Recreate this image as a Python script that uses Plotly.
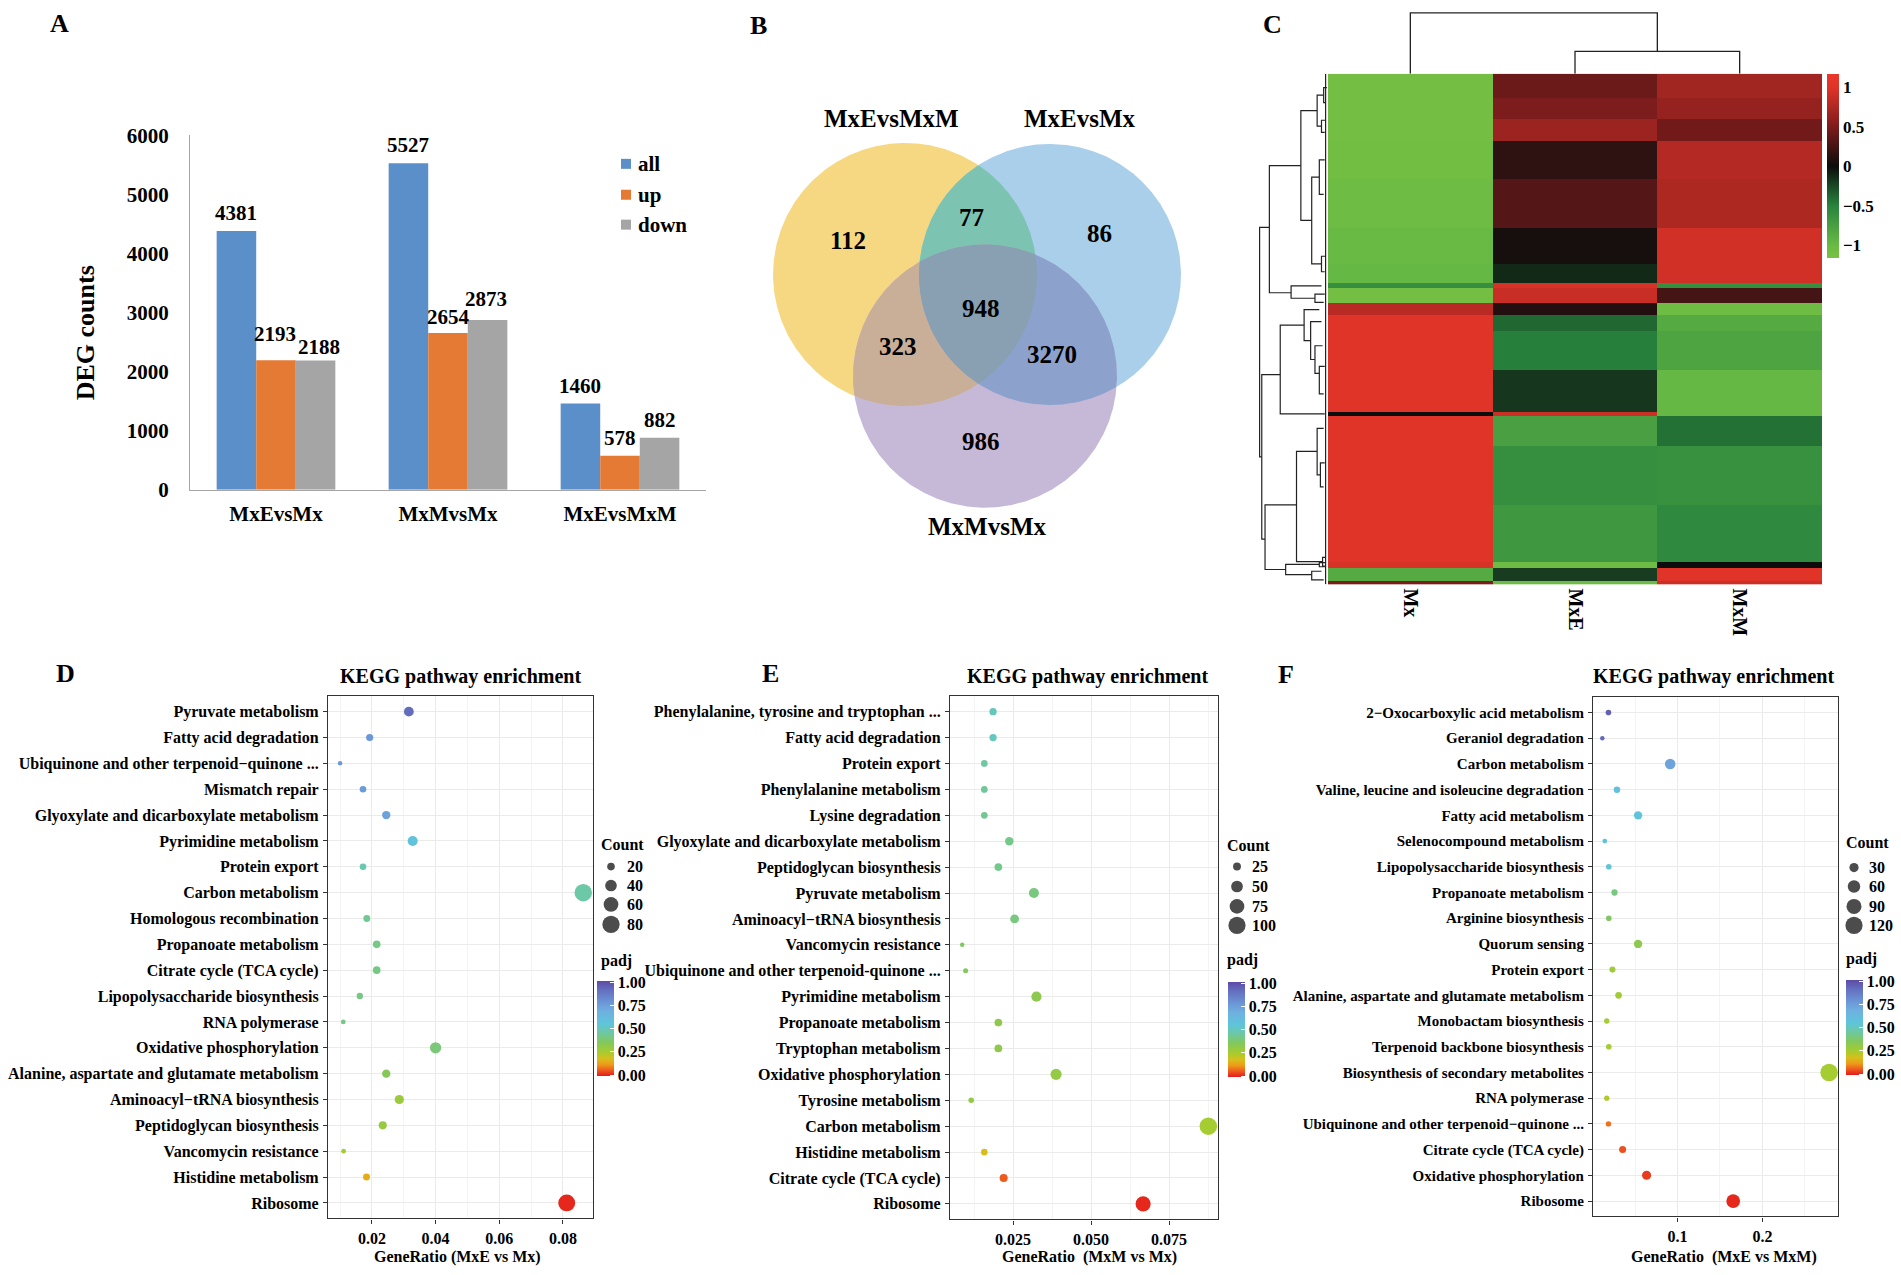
import numpy as np
import plotly.graph_objects as go

W, H = 1901, 1275
SERIF = "Liberation Serif, 'Times New Roman', Times, serif"

# ===================== DATA =====================
# Panel A: DEG counts
deg_groups = ["MxEvsMx", "MxMvsMx", "MxEvsMxM"]
deg_all = [4381, 5527, 1460]
deg_up = [2193, 2654, 578]
deg_down = [2188, 2873, 882]
deg_series = ["all", "up", "down"]

# Panel B: Venn
venn_set_names = ["MxEvsMxM", "MxEvsMx", "MxMvsMx"]
venn_region_sets = ["A", "AB", "B", "ABC", "AC", "BC", "C"]
venn_region_counts = [112, 77, 86, 948, 323, 3270, 986]

# Panel C: heatmap (row blocks, top to bottom)
hm_samples = ["Mx", "MxE", "MxM"]
hm_block_rows = [72, 60, 65, 110, 140, 105, 55, 15, 43, 35, 47, 115, 120, 12, 88, 170, 165, 20, 37, 10]
hm_mx = [-1.1, -1.1, -1.1, -1.08, -1.05, -1.0, -0.98, -0.6, -1.1, 0.8, 1.0, 1.0, 1.02, 0.0, 1.0, 1.0, 1.0, 0.95, -0.85, 0.5]
hm_mxe = [0.42, 0.5, 0.65, 0.15, 0.32, 0.05, -0.12, 0.95, 0.88, 0.1, -0.38, -0.48, -0.18, 0.9, -0.75, -0.6, -0.68, -1.05, -0.2, -1.05]
hm_mxm = [0.68, 0.62, 0.45, 0.78, 0.75, 0.92, 0.92, -0.6, 0.25, -1.05, -0.85, -0.8, -0.98, -0.98, -0.42, -0.62, -0.55, 0.0, 1.0, 0.9]
# column dendrogram: (merge height, x1, h1, x2, h2)
col_links = [(23.5, 1, 0, 2, 0), (64, 0, 0, 1.5, 23.5)]
# row dendrogram: (merge height, row1, h1, row2, h2)
row_links = [
    (63, 446, 54, 1113, 61), (61, 874, 44, 1352, 58),
    (54, 267, 25, 636, 34), (25, 107, 10, 426, 15),
    (10, 62, 4, 152, 6), (4, 40, 1, 84, 2), (6, 135, 2, 170, 3),
    (15, 300, 8, 552, 6), (8, 250, 3, 350, 4), (6, 530, 2, 575, 3),
    (34, 616, 6, 652, 12), (12, 640, 3, 664, 4),
    (44, 730, 22, 988, 3), (22, 685, 8, 775, 16), (16, 720, 6, 830, 12),
    (12, 790, 5, 870, 8), (8, 850, 3, 930, 4),
    (58, 1252, 29, 1440, 39), (29, 1097, 10, 1417, 5),
    (10, 1030, 4, 1165, 7), (7, 1130, 3, 1200, 4), (5, 1405, 2, 1430, 2),
    (39, 1425, 8, 1455, 15), (15, 1445, 6, 1470, 4), (8, 1420, 2, 1432, 3),
]

# Panel D: KEGG MxE vs Mx
d_terms = ["Pyruvate metabolism", "Fatty acid degradation", "Ubiquinone and other terpenoid\u2212quinone ...",
           "Mismatch repair", "Glyoxylate and dicarboxylate metabolism", "Pyrimidine metabolism",
           "Protein export", "Carbon metabolism", "Homologous recombination", "Propanoate metabolism",
           "Citrate cycle (TCA cycle)", "Lipopolysaccharide biosynthesis", "RNA polymerase",
           "Oxidative phosphorylation", "Alanine, aspartate and glutamate metabolism",
           "Aminoacyl\u2212tRNA biosynthesis", "Peptidoglycan biosynthesis", "Vancomycin resistance",
           "Histidine metabolism", "Ribosome"]
d_ratio = [0.0316, 0.0193, 0.0100, 0.0172, 0.0245, 0.0328, 0.0172, 0.0864, 0.0184, 0.0215,
           0.0215, 0.0162, 0.0110, 0.0400, 0.0245, 0.0286, 0.0234, 0.0111, 0.0183, 0.0812]
d_count = [30, 18, 9, 16, 23, 31, 16, 82, 17, 20, 20, 15, 10, 38, 23, 27, 22, 10, 17, 77]
d_padj = [0.92, 0.78, 0.77, 0.76, 0.74, 0.57, 0.48, 0.46, 0.43, 0.41, 0.41, 0.41, 0.41, 0.39,
          0.34, 0.28, 0.29, 0.25, 0.14, 0.0]

# Panel E: KEGG MxM vs Mx
e_terms = ["Phenylalanine, tyrosine and tryptophan ...", "Fatty acid degradation", "Protein export",
           "Phenylalanine metabolism", "Lysine degradation", "Glyoxylate and dicarboxylate metabolism",
           "Peptidoglycan biosynthesis", "Pyruvate metabolism", "Aminoacyl\u2212tRNA biosynthesis",
           "Vancomycin resistance", "Ubiquinone and other terpenoid-quinone ...", "Pyrimidine metabolism",
           "Propanoate metabolism", "Tryptophan metabolism", "Oxidative phosphorylation",
           "Tyrosine metabolism", "Carbon metabolism", "Histidine metabolism",
           "Citrate cycle (TCA cycle)", "Ribosome"]
e_ratio = [0.0186, 0.0186, 0.0158, 0.0158, 0.0158, 0.0238, 0.0203, 0.0317, 0.0255, 0.0087,
           0.0098, 0.0325, 0.0203, 0.0203, 0.0388, 0.0116, 0.0876, 0.0158, 0.0220, 0.0667]
e_count = [22, 22, 19, 19, 19, 28, 24, 38, 30, 10, 12, 39, 24, 24, 46, 14, 104, 19, 26, 79]
e_padj = [0.50, 0.50, 0.45, 0.44, 0.43, 0.42, 0.42, 0.40, 0.40, 0.36, 0.35, 0.32, 0.31, 0.31,
          0.30, 0.30, 0.25, 0.17, 0.05, 0.0]

# Panel F: KEGG MxE vs MxM
f_terms = ["2\u2212Oxocarboxylic acid metabolism", "Geraniol degradation", "Carbon metabolism",
           "Valine, leucine and isoleucine degradation", "Fatty acid metabolism",
           "Selenocompound metabolism", "Lipopolysaccharide biosynthesis", "Propanoate metabolism",
           "Arginine biosynthesis", "Quorum sensing", "Protein export",
           "Alanine, aspartate and glutamate metabolism", "Monobactam biosynthesis",
           "Terpenoid backbone biosynthesis", "Biosynthesis of secondary metabolites", "RNA polymerase",
           "Ubiquinone and other terpenoid\u2212quinone ...", "Citrate cycle (TCA cycle)",
           "Oxidative phosphorylation", "Ribosome"]
f_ratio = [0.0187, 0.0115, 0.0914, 0.0287, 0.0536, 0.0144, 0.0191, 0.0258, 0.0191, 0.0536,
           0.0234, 0.0306, 0.0167, 0.0191, 0.2785, 0.0167, 0.0187, 0.0354, 0.0636, 0.1656]
f_count = [9, 5, 41, 13, 24, 6, 9, 12, 9, 24, 11, 14, 8, 9, 125, 8, 8, 16, 29, 74]
f_padj = [0.95, 0.93, 0.73, 0.57, 0.56, 0.56, 0.54, 0.40, 0.36, 0.32, 0.27, 0.26, 0.25, 0.25,
          0.25, 0.23, 0.07, 0.04, 0.02, 0.0]

d_legend_counts = [20, 40, 60, 80]
e_legend_counts = [25, 50, 75, 100]
f_legend_counts = [30, 60, 90, 120]
padj_ticks = [0, 0.25, 0.5, 0.75, 1.0]
hm_ticks = [-1, -0.5, 0, 0.5, 1]

# ===================== HELPERS =====================
YS, YO = 1.0159, -10.84          # vertical layout calibration
def ty(y): return YS * y + YO
def clamp(v): return min(1.0, max(0.0, v))
def px_x(x): return x / W
def px_y(y): return 1 - ty(y) / H
def dom_x(a, b): return [a / W, b / W]
def dom_y(top, bottom): return [clamp(1 - ty(bottom) / H), clamp(1 - ty(top) / H)]

def bold(size, color="black"):
    return dict(family=SERIF, size=size, color=color, weight="bold")

annotations = []
def ann(text, x, y, size, xanchor="center", yanchor="middle", angle=0):
    annotations.append(dict(text=text, x=px_x(x), y=px_y(y), xref="paper", yref="paper",
                            showarrow=False, xanchor=xanchor, yanchor=yanchor, textangle=angle,
                            font=bold(size), borderpad=0))

fig = go.Figure()
layout = dict(width=W, height=H, margin=dict(l=0, r=0, t=0, b=0, pad=0),
              paper_bgcolor="white", plot_bgcolor="rgba(0,0,0,0)", showlegend=False,
              font=bold(16))

# ===================== PANEL A =====================
bar_colors = ["#5B8FC9", "#E47A33", "#A5A5A5"]
BARGAP = 0.31
a_x0, a_x1 = 190, 706
bar_px = (a_x1 - a_x0) / len(deg_groups) * (1 - BARGAP) / len(deg_series)
# label nudges (Excel-style collision avoidance), in pixels: (series, group) -> (dx, dy)
label_nudge = {(1, 0): (-1, 8), (2, 0): (3, -4), (1, 1): (0, -2), (2, 1): (-2, 3)}
for si, (name, vals, col) in enumerate(zip(deg_series, [deg_all, deg_up, deg_down], bar_colors)):
    fig.add_trace(go.Bar(x=deg_groups, y=vals, name=name, marker=dict(color=col, line=dict(width=0)),
                         xaxis="x", yaxis="y"))
    for gi, (g, v) in enumerate(zip(deg_groups, vals)):
        ndx, ndy = label_nudge.get((si, gi), (0, 0))
        annotations.append(dict(text=str(v), x=g, y=v, xref="x", yref="y", showarrow=False,
                                xanchor="center", yanchor="middle",
                                xshift=(si - 1) * bar_px + ndx, yshift=18 + ndy,
                                font=bold(21), borderpad=0))
layout.update(barmode="group", bargap=BARGAP, bargroupgap=0)
layout["xaxis"] = dict(domain=dom_x(a_x0, a_x1), anchor="y", showline=True, linecolor="#A6A6A6",
                       linewidth=1.2, ticks="", tickfont=bold(21), ticklabelstandoff=5, showgrid=False)
layout["yaxis"] = dict(domain=dom_y(134.5, 490), anchor="x", range=[0, 6000], dtick=1000,
                       showline=True, linecolor="#A6A6A6", linewidth=1.2, ticks="",
                       tickfont=bold(21), showgrid=False, zeroline=False, ticklabelstandoff=16)
ann("DEG counts", 85, 333, 26, angle=-90)
ann("A", 59, 22, 26)
# legend (manual)
for i, (name, col) in enumerate(zip(deg_series, bar_colors)):
    yy = [163, 194, 224][i]
    fig.add_trace(go.Scatter(x=[626], y=[yy], mode="markers", hoverinfo="skip",
                             marker=dict(symbol="square", size=10, color=col),
                             xaxis="x8", yaxis="y8"))
    ann(name, 637, yy, 21, xanchor="left")

# ===================== PANEL B (Venn) =====================
circles = {"A": (905, 274, 132), "B": (1050, 274, 131), "C": (985, 376, 132)}
region_colors = {"A": "#F7D882", "B": "#AACFEA", "C": "#C6B9D8",
                 "AB": "#7DC3B2", "AC": "#C9AF98", "BC": "#8CA2CD", "ABC": "#88A0B2"}

def region_polygon(circ_list):
    pts = []
    for i, (cx, cy, r) in enumerate(circ_list):
        t = np.linspace(0, 2 * np.pi, 1440, endpoint=False)
        xs, ys = cx + r * np.cos(t), cy + r * np.sin(t)
        mask = np.ones_like(xs, dtype=bool)
        for j, (ox, oy, orr) in enumerate(circ_list):
            if j != i:
                mask &= (xs - ox) ** 2 + (ys - oy) ** 2 <= orr ** 2 + 1e-6
        pts.append(np.c_[xs[mask], ys[mask]])
    P = np.vstack(pts)
    c = P.mean(axis=0)
    P = P[np.argsort(np.arctan2(P[:, 1] - c[1], P[:, 0] - c[0]))]
    return list(P[:, 0]) + [P[0, 0]], list(P[:, 1]) + [P[0, 1]]

for key in ["A", "B", "C", "AB", "AC", "BC", "ABC"]:
    xs, ys = region_polygon([circles[k] for k in key])
    fig.add_trace(go.Scatter(x=xs, y=ys, mode="lines", fill="toself", fillcolor=region_colors[key],
                             line=dict(width=0), hoverinfo="skip", xaxis="x8", yaxis="y8"))
venn_text_pos = {"A": (848, 240), "AB": (971, 217), "B": (1099, 233), "ABC": (981, 308),
                 "AC": (898, 346), "BC": (1052, 354), "C": (981, 442)}
for key, cnt in zip(venn_region_sets, venn_region_counts):
    x, y = venn_text_pos[key]
    ann(str(cnt), x, y, 25)
ann(venn_set_names[0], 891, 118, 25)
ann(venn_set_names[1], 1080, 118, 25)
ann(venn_set_names[2], 987, 527, 25)
ann("B", 758, 24, 26)

# ===================== PANEL C (heatmap) =====================
hm_cols = np.array([hm_mx, hm_mxe, hm_mxm]).T
Z = np.repeat(hm_cols, hm_block_rows, axis=0)
nrows = Z.shape[0]
zmin, zmax = -1.16, 1.17
def zp(v): return (v - zmin) / (zmax - zmin)
hm_cs = [[0.0, "rgb(122,193,66)"], [zp(-1.0), "rgb(105,186,68)"], [zp(-0.5), "rgb(40,132,62)"],
         [zp(0.0), "rgb(12,12,12)"], [zp(0.5), "rgb(125,28,28)"], [zp(1.0), "rgb(224,52,40)"],
         [1.0, "rgb(232,56,42)"]]
fig.add_trace(go.Heatmap(z=Z, x=hm_samples, y=list(range(nrows)), zmin=zmin, zmax=zmax,
                         colorscale=hm_cs, hoverinfo="skip", xaxis="x2", yaxis="y2",
                         colorbar=dict(x=1827 / W, xanchor="left", y=px_y(72.7), yanchor="top",
                                       len=181.5 * YS, lenmode="pixels", thickness=12, xpad=0, ypad=0,
                                       outlinewidth=0, tickvals=hm_ticks,
                                       ticktext=["\u22121", "\u22120.5", "0", "0.5", "1"],
                                       ticks="", tickfont=bold(17))))
layout["xaxis2"] = dict(domain=dom_x(1328, 1822), anchor="y2", ticks="", tickangle=90,
                        tickfont=bold(20), showline=False, showgrid=False, ticklabelstandoff=3)
layout["yaxis2"] = dict(domain=dom_y(72.5, 585), anchor="x2", range=[nrows - 0.5, -0.5],
                        visible=False)
# column dendrogram
cx, cy = [], []
for hp, x1, h1, x2, h2 in col_links:
    cx += [x1, x1, x2, x2, None]
    cy += [h1, hp, hp, h2, None]
fig.add_trace(go.Scatter(x=cx, y=cy, mode="lines", line=dict(color="#222", width=1.3),
                         hoverinfo="skip", xaxis="x3", yaxis="y3"))
hm_top_screen = ty(72.5)
layout["xaxis3"] = dict(domain=dom_x(1328, 1822), anchor="y3", range=[-0.5, 2.5], visible=False)
layout["yaxis3"] = dict(domain=[1 - hm_top_screen / H, 1], anchor="x3",
                        range=[0, hm_top_screen / 0.966], visible=False)
# row dendrogram
rx, ry = [], []
for hp, y1, h1, y2, h2 in row_links:
    rx += [h1, hp, hp, h2, None]
    ry += [y1, y1, y2, y2, None]
rx += [2.2, 2.2, None]
ry += [0, nrows - 1, None]
fig.add_trace(go.Scatter(x=rx, y=ry, mode="lines", line=dict(color="#222", width=1.2),
                         hoverinfo="skip", xaxis="x4", yaxis="y4"))
layout["xaxis4"] = dict(domain=dom_x(1252, 1328), anchor="y4", range=[70, 0], visible=False)
layout["yaxis4"] = dict(domain=dom_y(72.5, 585), anchor="x4", range=[nrows - 0.5, -0.5], visible=False)
ann("C", 1272, 23, 26)

# ===================== PANELS D/E/F =====================
padj_cs = [[0.0, "#E41A1C"], [0.06, "#EE5A1E"], [0.12, "#EE9A1A"], [0.18, "#D9BE1C"],
           [0.25, "#A7CC2E"], [0.35, "#84C85A"], [0.45, "#6EC8A0"], [0.55, "#5EC5DA"],
           [0.68, "#6FB0E0"], [0.78, "#6B94D6"], [0.9, "#6470C0"], [1.0, "#5E4BA6"]]

def dot_size(c, cmin, cmax, dmin=4.5, dmax=17.5):
    c = np.asarray(c, dtype=float)
    return dmin + (np.sqrt(c) - np.sqrt(cmin)) / (np.sqrt(cmax) - np.sqrt(cmin)) * (dmax - dmin)

panels = [
    dict(letter="D", lp=(65, 674), terms=d_terms, ratio=d_ratio, count=d_count, padj=d_padj,
         ax="5", dx=(328, 592.5), dy=(697, 1221), xr=[0.0062, 0.0893], tv=[0.02, 0.04, 0.06, 0.08],
         fmt="{:.2f}", minor=0.01, tx=460, xt="GeneRatio (MxE vs Mx)", xtx=457, yfont=16,
         leg=d_legend_counts, lx=600, dotx=611, labx=626, rows=[868, 887, 906, 926], cnty=846,
         padjy=963, cbx=597, cbtop=983),
    dict(letter="E", lp=(770, 674), terms=e_terms, ratio=e_ratio, count=e_count, padj=e_padj,
         ax="6", dx=(950, 1218), dy=(697, 1222), xr=[0.0048, 0.0907], tv=[0.025, 0.05, 0.075],
         fmt="{:.3f}", minor=0.0125, tx=1087, xt="GeneRatio\u00a0 (MxM vs Mx)", xtx=1089, yfont=16,
         leg=e_legend_counts, lx=1226, dotx=1237, labx=1251, rows=[868, 888, 908, 927], cnty=847,
         padjy=962, cbx=1228, cbtop=984),
    dict(letter="F", lp=(1286, 675), terms=f_terms, ratio=f_ratio, count=f_count, padj=f_padj,
         ax="7", dx=(1593, 1838), dy=(698, 1219), xr=[0.0005, 0.289], tv=[0.1, 0.2],
         fmt="{:.1f}", minor=0.05, tx=1713, xt="GeneRatio\u00a0 (MxE vs MxM)", xtx=1724, yfont=15,
         leg=f_legend_counts, lx=1845, dotx=1854, labx=1868, rows=[869, 888, 908, 927], cnty=844,
         padjy=961, cbx=1846, cbtop=982),
]

for p in panels:
    n = len(p["terms"])
    cmin, cmax = min(p["count"]), max(p["count"])
    fig.add_trace(go.Scatter(
        x=p["ratio"], y=p["terms"], mode="markers", hoverinfo="skip",
        marker=dict(size=dot_size(p["count"], cmin, cmax), color=p["padj"], colorscale=padj_cs,
                    cmin=-0.012, cmax=1.012, line=dict(width=0), opacity=1,
                    colorbar=dict(x=p["cbx"] / W, xanchor="left", y=px_y(p["cbtop"]), yanchor="top",
                                  len=94 * YS, lenmode="pixels", thickness=17, xpad=0, ypad=0,
                                  outlinewidth=0, tickvals=padj_ticks,
                                  ticktext=["{:.2f}".format(v) for v in padj_ticks],
                                  ticks="inside", ticklen=4, tickcolor="white", tickwidth=1.2,
                                  tickfont=bold(16))),
        xaxis="x" + p["ax"], yaxis="y" + p["ax"]))
    layout["xaxis" + p["ax"]] = dict(
        domain=dom_x(*p["dx"]), anchor="y" + p["ax"], range=p["xr"], tickvals=p["tv"],
        ticktext=[p["fmt"].format(v) for v in p["tv"]], showgrid=True, gridcolor="#EBEBEB",
        gridwidth=1, minor=dict(dtick=p["minor"], tick0=0, showgrid=True, gridcolor="#F4F4F4",
                                gridwidth=0.7, ticks=""),
        zeroline=False, showline=True, mirror=True, linecolor="#333333", linewidth=1.2,
        ticks="outside", ticklen=4, tickcolor="#333333", tickfont=bold(16), ticklabelstandoff=1)
    layout["yaxis" + p["ax"]] = dict(
        domain=dom_y(*p["dy"]), anchor="x" + p["ax"], type="category",
        categoryorder="array", categoryarray=p["terms"], range=[n - 1 + 0.6, -0.6],
        showgrid=True, gridcolor="#EBEBEB", gridwidth=1, zeroline=False, showline=True,
        mirror=True, linecolor="#333333", linewidth=1.2, ticks="outside", ticklen=4,
        tickcolor="#333333", tickfont=bold(p["yfont"]), ticklabelstandoff=1)
    ann("KEGG pathway enrichment", p["tx"], 677, 20)
    ann(p["xt"], p["xtx"], 1260, 16)
    ann(p["letter"], p["lp"][0], p["lp"][1], 26)
    # size legend
    ann("Count", p["lx"], p["cnty"], 16, xanchor="left")
    ann("padj", p["lx"], p["padjy"], 16, xanchor="left")
    fig.add_trace(go.Scatter(x=[p["dotx"]] * len(p["leg"]), y=p["rows"], mode="markers",
                             hoverinfo="skip", marker=dict(color="black", line=dict(width=0),
                                                           size=dot_size(p["leg"], cmin, cmax)),
                             xaxis="x8", yaxis="y8"))
    for c, yy in zip(p["leg"], p["rows"]):
        ann(str(c), p["labx"], yy, 16, xanchor="left")

# overlay pixel axis (same vertical calibration as the rest of the layout)
layout["xaxis8"] = dict(domain=[0, 1], anchor="y8", range=[0, W], visible=False, fixedrange=True)
layout["yaxis8"] = dict(domain=[0, 1], anchor="x8", range=[(H - YO) / YS, -YO / YS],
                        visible=False, fixedrange=True)
layout["annotations"] = annotations
fig.update_layout(**layout)

fig.write_html("out.html", config={"displayModeBar": False},
               post_script="document.body.style.margin='0';document.body.style.overflow='hidden';")
